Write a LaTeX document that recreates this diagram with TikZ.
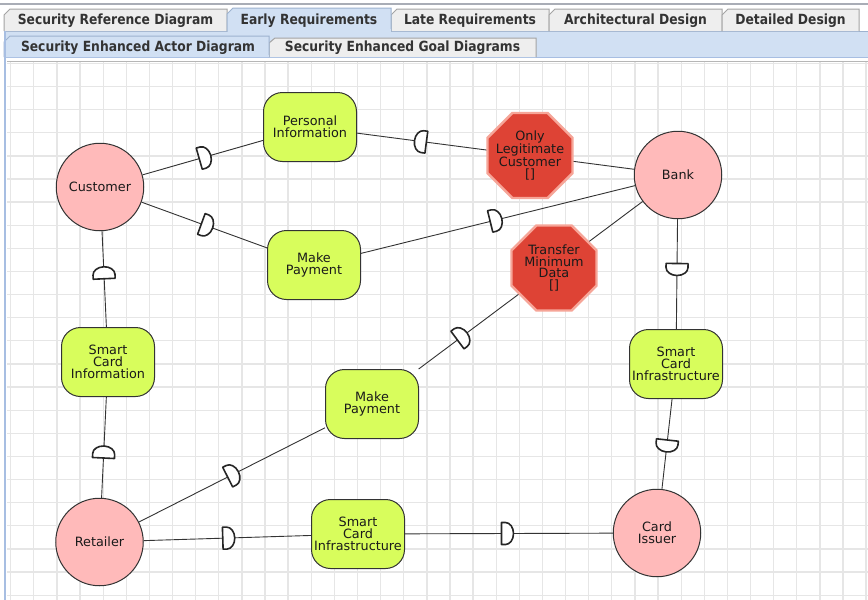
\documentclass[tikz,border=0pt]{standalone}
\usepackage{fontspec}
\setmainfont{DejaVu Sans}
\newfontfamily\tabfont[FakeStretch=0.88]{DejaVu Sans}
\usetikzlibrary{shapes.geometric}

\definecolor{tabgrey}{HTML}{EEEEEE}
\definecolor{tabedge}{HTML}{A4A4A4}
\definecolor{tabblue}{HTML}{D1E0F3}
\definecolor{tabblueedge}{HTML}{9DB2CF}
\definecolor{banddark}{HTML}{A7BEE2}
\definecolor{winline}{HTML}{A9ADB6}
\definecolor{tabtextc}{HTML}{333333}
\definecolor{gridc}{HTML}{E6E6E6}
\definecolor{actorfill}{HTML}{FFBABA}
\definecolor{goalfill}{HTML}{D8FD5C}
\definecolor{secfill}{HTML}{DE4335}
\definecolor{secedge}{HTML}{F6A598}
\definecolor{linkc}{HTML}{333333}
\definecolor{inkc}{HTML}{1A1A1A}

\pgfdeclarelayer{back}
\pgfdeclarelayer{links}
\pgfsetlayers{back,links,main}

\tikzset{
  tabtext/.style={font=\tabfont\bfseries\fontsize{14}{14}\selectfont, text=tabtextc, inner sep=0pt},
  tabidle/.style={fill=tabgrey, draw=tabedge, line width=1pt},
  tabsel/.style={fill=tabblue, draw=tabblueedge, line width=1pt},
  diagtext/.style={font=\fontsize{12.8}{11.7}\selectfont, text=inkc, align=center, inner sep=0pt},
  actor/.style={diagtext, circle, draw=linkc, line width=1pt, fill=actorfill, minimum size=87.5pt},
  goal/.style={diagtext, rectangle, rounded corners=19pt, draw=linkc, line width=1pt, fill=goalfill,
               minimum width=93pt, minimum height=69pt},
  secc/.style={regular polygon, regular polygon sides=8, minimum size=92pt, inner sep=0pt,
               fill=secfill, draw=secedge, line width=2.4pt},
  link/.style={draw=linkc, line width=0.9pt},
  dsym/.style={sloped, allow upside down},
  dep/.pic={\draw[draw=black!85, line width=1.6pt, fill=white, line join=round]
      (-6,-11) -- (-6,11) -- (-2,11) arc[start angle=90, end angle=-90, x radius=8, y radius=11] -- cycle;}
}

\begin{document}
\begin{tikzpicture}[x=1pt, y=-1pt]
\useasboundingbox (0,0) rectangle (868,600);

% page background and drawing canvas with its grid
\begin{pgfonlayer}{back}
  \fill[white] (0,0) rectangle (868,600);
  \begin{scope}
    \clip (7,61) rectangle (868,600);
    \foreach \k in {0,...,37} {
      \draw[gridc, line width=1.3pt] (10.7+23.12*\k,61) -- (10.7+23.12*\k,600);
    }
    \foreach \k in {0,...,23} {
      \draw[gridc, line width=1.3pt] (7,63.4+23.12*\k) -- (868,63.4+23.12*\k);
    }
  \end{scope}
\end{pgfonlayer}

% window header
\draw[winline, line width=2pt] (0,4) -- (868,4);

% blue tab band
\fill[tabblue] (4,31) rectangle (868,57);
\draw[banddark, line width=1.6pt] (4,57.5) -- (868,57.5);
\draw[tabblueedge, line width=1pt] (4,31) -- (868,31);

% upper row of tabs
\path[tabidle] (4,31) -- (4,15) -- (10,9) -- (227,9) -- (227,31);
\path[tabidle] (391,31) -- (391,15) -- (397,9) -- (549,9) -- (549,31);
\path[tabidle] (549,31) -- (549,15) -- (555,9) -- (722,9) -- (722,31);
\path[tabidle] (722,31) -- (722,15) -- (728,9) -- (859,9) -- (859,31);
\path[tabsel] (227,31.5) -- (227,14) -- (233,8) -- (391,8) -- (391,31.5);
\fill[tabblue] (227.5,29) rectangle (390.5,33);

\node[tabtext] (tabsrd) at (115.5,20.5) {Security Reference Diagram};
\node[tabtext] (tabear) at (309,20.5) {Early Requirements};
\node[tabtext] (tablat) at (470,20.5) {Late Requirements};
\node[tabtext] (tabarc) at (635.5,20.5) {Architectural Design};
\node[tabtext] (tabdet) at (790.5,20.5) {Detailed Design};

% lower row of tabs
\path[tabidle] (269,57) -- (269,43) -- (275,38) -- (536,38) -- (536,57);
\path[tabsel] (4,57) -- (4,42) -- (10,36) -- (269,36) -- (269,57);
\fill[tabblue] (4.5,55) rectangle (268.5,57);

\node[tabtext] (tabsea) at (138,47.5) {Security Enhanced Actor Diagram};
\node[tabtext] (tabseg) at (402.5,48) {Security Enhanced Goal Diagrams};

% canvas frame
\fill[white] (7,58.5) rectangle (868,60.5);
\draw[tabedge!80, line width=1pt] (7,61) -- (868,61);
\draw[banddark, line width=2pt] (5,31) -- (5,600);

% actors
\node[actor] (cust) at (100,187) {Customer};
\node[actor] (bank) at (678,175) {Bank};
\node[actor] (ret)  at (99.5,542) {Retailer};
\node[actor] (ci)   at (657,533) {Card\\Issuer};

% dependums
\node[goal] (pi)   at (310,127) {Personal\\Information};
\node[goal] (mpt)  at (314,265) {Make\\Payment};
\node[goal] (sci)  at (108,362) {Smart\\Card\\Information};
\node[goal] (mpm)  at (372,404) {Make\\Payment};
\node[goal] (scib) at (358,534) {Smart\\Card\\Infrastructure};
\node[goal] (scir) at (676,364) {Smart\\Card\\Infrastructure};

% security constraints
\node[secc] (olc) at (530,155.5) {};
\node[diagtext] (olct) at (olc.center) {Only\\Legitimate\\Customer\\{[]}};
\node[secc] (tmd) at (554,268) {};
\node[diagtext] (tmdt) at (tmd.center) {Transfer\\Minimum\\Data\\{[]}};

% dependency links
\begin{pgfonlayer}{links}
  \draw[link] (cust) -- (pi);
  \draw[link] (pi) -- (bank);
  \draw[link] (cust) -- (mpt);
  \draw[link] (mpt) -- (bank);
  \draw[link] (ret) -- (sci);
  \draw[link] (sci) -- (cust);
  \draw[link] (ret) -- (mpm);
  \draw[link] (mpm) -- (bank);
  \draw[link] (ret) -- (scib);
  \draw[link] (scib) -- (ci);
  \draw[link] (bank) -- (scir);
  \draw[link] (scir) -- (ci);
\end{pgfonlayer}

% dependency markers
\path (cust.center) -- (pi.center)   pic[dsym, pos=0.5]{dep};
\path (bank.center) -- (pi.center)   pic[dsym, pos=0.70]{dep};
\path (cust.center) -- (mpt.center)  pic[dsym, pos=0.5]{dep};
\path (mpt.center) -- (bank.center)  pic[dsym, pos=0.5]{dep};
\path (ret.center) -- (sci.center)   pic[dsym, pos=0.5]{dep};
\path (sci.center) -- (cust.center)  pic[dsym, pos=0.51]{dep};
\path (ret.center) -- (mpm.center)   pic[dsym, pos=0.49]{dep};
\path (mpm.center) -- (bank.center)  pic[dsym, pos=0.295]{dep};
\path (ret.center) -- (scib.center)  pic[dsym, pos=0.5]{dep};
\path (scib.center) -- (ci.center)   pic[dsym, pos=0.5]{dep};
\path (bank.center) -- (scir.center) pic[dsym, pos=0.5]{dep};
\path (scir.center) -- (ci.center)   pic[dsym, pos=0.485]{dep};
\end{tikzpicture}
\end{document}
